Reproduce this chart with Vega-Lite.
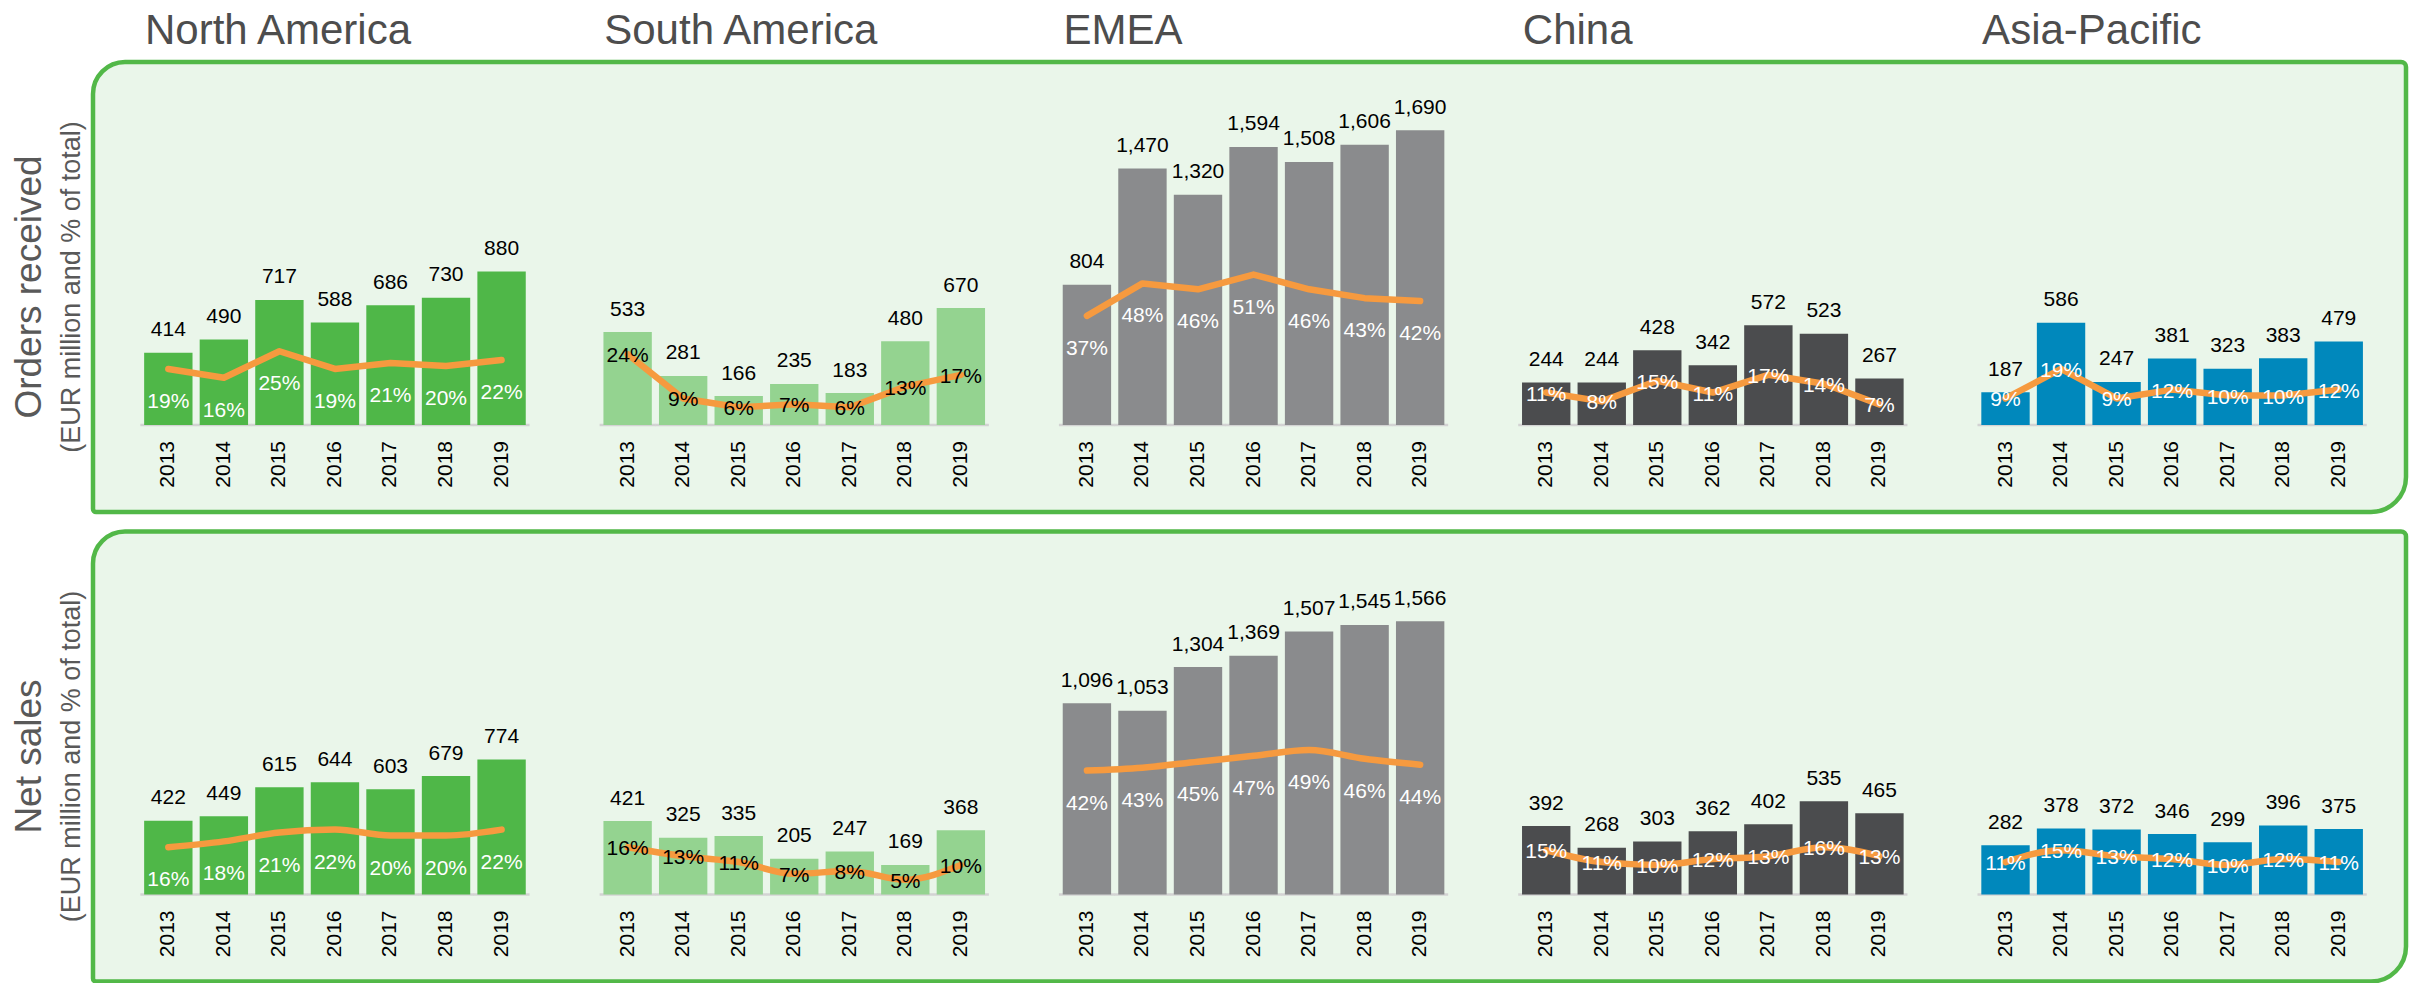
{
  "$schema": "https://vega.github.io/schema/vega-lite/v6.json",
  "padding": {"left": 10, "top": 9, "right": 0, "bottom": 0},
  "autosize": {"type": "pad"},
  "background": "#ffffff",
  "config": {"font": "Liberation Sans", "view": {"stroke": null}, "axis": {"grid": false}},
  "datasets": {
    "orders": [
      {"region": "North America", "year": "2013", "value": 414, "pct": 0.19},
      {"region": "North America", "year": "2014", "value": 490, "pct": 0.16},
      {"region": "North America", "year": "2015", "value": 717, "pct": 0.25},
      {"region": "North America", "year": "2016", "value": 588, "pct": 0.19},
      {"region": "North America", "year": "2017", "value": 686, "pct": 0.21},
      {"region": "North America", "year": "2018", "value": 730, "pct": 0.20},
      {"region": "North America", "year": "2019", "value": 880, "pct": 0.22},
      {"region": "South America", "year": "2013", "value": 533, "pct": 0.24},
      {"region": "South America", "year": "2014", "value": 281, "pct": 0.09},
      {"region": "South America", "year": "2015", "value": 166, "pct": 0.06},
      {"region": "South America", "year": "2016", "value": 235, "pct": 0.07},
      {"region": "South America", "year": "2017", "value": 183, "pct": 0.06},
      {"region": "South America", "year": "2018", "value": 480, "pct": 0.13},
      {"region": "South America", "year": "2019", "value": 670, "pct": 0.17},
      {"region": "EMEA", "year": "2013", "value": 804, "pct": 0.37},
      {"region": "EMEA", "year": "2014", "value": 1470, "pct": 0.48},
      {"region": "EMEA", "year": "2015", "value": 1320, "pct": 0.46},
      {"region": "EMEA", "year": "2016", "value": 1594, "pct": 0.51},
      {"region": "EMEA", "year": "2017", "value": 1508, "pct": 0.46},
      {"region": "EMEA", "year": "2018", "value": 1606, "pct": 0.43},
      {"region": "EMEA", "year": "2019", "value": 1690, "pct": 0.42},
      {"region": "China", "year": "2013", "value": 244, "pct": 0.11},
      {"region": "China", "year": "2014", "value": 244, "pct": 0.08},
      {"region": "China", "year": "2015", "value": 428, "pct": 0.15},
      {"region": "China", "year": "2016", "value": 342, "pct": 0.11},
      {"region": "China", "year": "2017", "value": 572, "pct": 0.17},
      {"region": "China", "year": "2018", "value": 523, "pct": 0.14},
      {"region": "China", "year": "2019", "value": 267, "pct": 0.07},
      {"region": "Asia-Pacific", "year": "2013", "value": 187, "pct": 0.09},
      {"region": "Asia-Pacific", "year": "2014", "value": 586, "pct": 0.19},
      {"region": "Asia-Pacific", "year": "2015", "value": 247, "pct": 0.09},
      {"region": "Asia-Pacific", "year": "2016", "value": 381, "pct": 0.12},
      {"region": "Asia-Pacific", "year": "2017", "value": 323, "pct": 0.10},
      {"region": "Asia-Pacific", "year": "2018", "value": 383, "pct": 0.10},
      {"region": "Asia-Pacific", "year": "2019", "value": 479, "pct": 0.12}
    ],
    "sales": [
      {"region": "North America", "year": "2013", "value": 422, "pct": 0.16},
      {"region": "North America", "year": "2014", "value": 449, "pct": 0.18},
      {"region": "North America", "year": "2015", "value": 615, "pct": 0.21},
      {"region": "North America", "year": "2016", "value": 644, "pct": 0.22},
      {"region": "North America", "year": "2017", "value": 603, "pct": 0.20},
      {"region": "North America", "year": "2018", "value": 679, "pct": 0.20},
      {"region": "North America", "year": "2019", "value": 774, "pct": 0.22},
      {"region": "South America", "year": "2013", "value": 421, "pct": 0.16},
      {"region": "South America", "year": "2014", "value": 325, "pct": 0.13},
      {"region": "South America", "year": "2015", "value": 335, "pct": 0.11},
      {"region": "South America", "year": "2016", "value": 205, "pct": 0.07},
      {"region": "South America", "year": "2017", "value": 247, "pct": 0.08},
      {"region": "South America", "year": "2018", "value": 169, "pct": 0.05},
      {"region": "South America", "year": "2019", "value": 368, "pct": 0.10},
      {"region": "EMEA", "year": "2013", "value": 1096, "pct": 0.42},
      {"region": "EMEA", "year": "2014", "value": 1053, "pct": 0.43},
      {"region": "EMEA", "year": "2015", "value": 1304, "pct": 0.45},
      {"region": "EMEA", "year": "2016", "value": 1369, "pct": 0.47},
      {"region": "EMEA", "year": "2017", "value": 1507, "pct": 0.49},
      {"region": "EMEA", "year": "2018", "value": 1545, "pct": 0.46},
      {"region": "EMEA", "year": "2019", "value": 1566, "pct": 0.44},
      {"region": "China", "year": "2013", "value": 392, "pct": 0.15},
      {"region": "China", "year": "2014", "value": 268, "pct": 0.11},
      {"region": "China", "year": "2015", "value": 303, "pct": 0.10},
      {"region": "China", "year": "2016", "value": 362, "pct": 0.12},
      {"region": "China", "year": "2017", "value": 402, "pct": 0.13},
      {"region": "China", "year": "2018", "value": 535, "pct": 0.16},
      {"region": "China", "year": "2019", "value": 465, "pct": 0.13},
      {"region": "Asia-Pacific", "year": "2013", "value": 282, "pct": 0.11},
      {"region": "Asia-Pacific", "year": "2014", "value": 378, "pct": 0.15},
      {"region": "Asia-Pacific", "year": "2015", "value": 372, "pct": 0.13},
      {"region": "Asia-Pacific", "year": "2016", "value": 346, "pct": 0.12},
      {"region": "Asia-Pacific", "year": "2017", "value": 299, "pct": 0.10},
      {"region": "Asia-Pacific", "year": "2018", "value": 396, "pct": 0.12},
      {"region": "Asia-Pacific", "year": "2019", "value": 375, "pct": 0.11}
    ]
  },
  "bounds": "flush",
  "spacing": 19.5,
  "vconcat": [
    {
      "data": {"name": "orders"},
      "width": 2313,
      "height": 450,
      "title": {"text": "Orders received", "subtitle": "(EUR million and % of total)", "orient": "left", "anchor": "middle", "font": "Liberation Sans", "fontSize": 37, "fontWeight": "normal", "color": "#595959", "subtitleFont": "Liberation Sans", "subtitleFontSize": 27, "subtitleColor": "#595959", "subtitlePadding": 10, "offset": 5},
      "layer": [
        {
          "data": {"values": [{}]},
          "mark": {"type": "rect", "fill": "#eaf6ea", "stroke": "#52b848", "strokeWidth": 4.5, "cornerRadiusTopLeft": 32, "cornerRadiusTopRight": 5, "cornerRadiusBottomRight": 35, "cornerRadiusBottomLeft": 3},
          "encoding": {}
        },
        {
          "encoding": {
            "x": {"field": "region", "type": "nominal", "scale": {"type": "band", "domain": ["North America", "South America", "EMEA", "China", "Asia-Pacific"], "paddingInner": 0.151, "paddingOuter": 0.0935, "align": 0.547},
              "axis": {"orient": "top", "title": null, "domain": false, "ticks": false, "tickSize": 0, "labelAngle": 0, "labelAlign": "left", "labelBaseline": "alphabetic", "labelPadding": 18.5, "labelOffset": -190, "labelFont": "Liberation Sans", "labelFontSize": 42, "labelColor": "#4d4d4d", "labelLimit": 0, "labelOverlap": false, "labelBound": false}},
            "xOffset": {"field": "year", "type": "ordinal", "scale": {"paddingInner": 0.129, "paddingOuter": 0.075}}
          },
          "resolve": {"scale": {"y": "independent"}},
          "layer": [
            {
              "layer": [
                {
                  "mark": {"type": "tick", "color": "#d3d3d3", "size": 56, "thickness": 2.5, "opacity": 1},
                  "encoding": {"y": {"datum": 0, "type": "quantitative", "scale": {"domain": [-499, 2081], "nice": false, "zero": false}, "axis": null}}
                },
                {
                  "mark": {"type": "bar"},
                  "encoding": {
                    "y": {"field": "value", "type": "quantitative", "scale": {"domain": [-499, 2081], "nice": false, "zero": false}, "axis": null},
                    "color": {"field": "region", "type": "nominal", "scale": {"domain": ["North America", "South America", "EMEA", "China", "Asia-Pacific"], "range": ["#4fb748", "#94d390", "#8a8b8d", "#4b4c4e", "#0088bc"]}, "legend": null}
                  }
                },
                {
                  "mark": {"type": "text", "fontSize": 21, "color": "#000000", "baseline": "alphabetic", "dy": -16.5},
                  "encoding": {
                    "y": {"field": "value", "type": "quantitative", "scale": {"domain": [-499, 2081], "nice": false, "zero": false}, "axis": null},
                    "text": {"field": "value", "type": "quantitative", "format": ","}
                  }
                },
                {
                  "mark": {"type": "text", "fontSize": 21, "color": "#000000", "angle": 270, "align": "right", "baseline": "middle", "dx": -16},
                  "encoding": {
                    "y": {"datum": 0, "type": "quantitative", "scale": {"domain": [-499, 2081], "nice": false, "zero": false}, "axis": null},
                    "text": {"field": "year", "type": "nominal"}
                  }
                }
              ]
            },
            {
              "layer": [
                {
                  "mark": {"type": "line", "color": "#f69a3f", "strokeWidth": 6.5, "strokeCap": "round", "strokeJoin": "round", "interpolate": "linear"},
                  "encoding": {
                    "y": {"field": "pct", "type": "quantitative", "scale": {"domain": [-0.2949, 1.2305], "nice": false, "zero": false}, "axis": null},
                    "detail": {"field": "region", "type": "nominal"},
                    "order": {"field": "year", "type": "ordinal"}
                  }
                },
                {
                  "transform": [{"filter": {"field": "region", "oneOf": ["North America", "EMEA"]}}],
                  "mark": {"type": "text", "fontSize": 21, "color": "#ffffff", "baseline": "middle", "dy": 33},
                  "encoding": {
                    "y": {"field": "pct", "type": "quantitative", "scale": {"domain": [-0.2949, 1.2305], "nice": false, "zero": false}, "axis": null},
                    "text": {"field": "pct", "type": "quantitative", "format": ".0%"}
                  }
                },
                {
                  "transform": [{"filter": {"field": "region", "oneOf": ["South America", "China", "Asia-Pacific"]}}],
                  "mark": {"type": "text", "fontSize": 21, "baseline": "middle", "dy": 2},
                  "encoding": {
                    "y": {"field": "pct", "type": "quantitative", "scale": {"domain": [-0.2949, 1.2305], "nice": false, "zero": false}, "axis": null},
                    "text": {"field": "pct", "type": "quantitative", "format": ".0%"},
                    "color": {"condition": {"test": "datum.region === 'South America'", "value": "#000000"}, "value": "#ffffff"}
                  }
                }
              ]
            }
          ]
        }
      ]
    },
    {
      "data": {"name": "sales"},
      "width": 2313,
      "height": 450,
      "title": {"text": "Net sales", "subtitle": "(EUR million and % of total)", "orient": "left", "anchor": "middle", "font": "Liberation Sans", "fontSize": 37, "fontWeight": "normal", "color": "#595959", "subtitleFont": "Liberation Sans", "subtitleFontSize": 27, "subtitleColor": "#595959", "subtitlePadding": 10, "offset": 5},
      "layer": [
        {
          "data": {"values": [{}]},
          "mark": {"type": "rect", "fill": "#eaf6ea", "stroke": "#52b848", "strokeWidth": 4.5, "cornerRadiusTopLeft": 32, "cornerRadiusTopRight": 5, "cornerRadiusBottomRight": 35, "cornerRadiusBottomLeft": 3},
          "encoding": {}
        },
        {
          "encoding": {
            "x": {"field": "region", "type": "nominal", "scale": {"type": "band", "domain": ["North America", "South America", "EMEA", "China", "Asia-Pacific"], "paddingInner": 0.151, "paddingOuter": 0.0935, "align": 0.547}, "axis": null},
            "xOffset": {"field": "year", "type": "ordinal", "scale": {"paddingInner": 0.129, "paddingOuter": 0.075}}
          },
          "resolve": {"scale": {"y": "independent"}},
          "layer": [
            {
              "layer": [
                {
                  "mark": {"type": "tick", "color": "#d3d3d3", "size": 56, "thickness": 2.5, "opacity": 1},
                  "encoding": {"y": {"datum": 0, "type": "quantitative", "scale": {"domain": [-499, 2081], "nice": false, "zero": false}, "axis": null}}
                },
                {
                  "mark": {"type": "bar"},
                  "encoding": {
                    "y": {"field": "value", "type": "quantitative", "scale": {"domain": [-499, 2081], "nice": false, "zero": false}, "axis": null},
                    "color": {"field": "region", "type": "nominal", "scale": {"domain": ["North America", "South America", "EMEA", "China", "Asia-Pacific"], "range": ["#4fb748", "#94d390", "#8a8b8d", "#4b4c4e", "#0088bc"]}, "legend": null}
                  }
                },
                {
                  "mark": {"type": "text", "fontSize": 21, "color": "#000000", "baseline": "alphabetic", "dy": -16.5},
                  "encoding": {
                    "y": {"field": "value", "type": "quantitative", "scale": {"domain": [-499, 2081], "nice": false, "zero": false}, "axis": null},
                    "text": {"field": "value", "type": "quantitative", "format": ","}
                  }
                },
                {
                  "mark": {"type": "text", "fontSize": 21, "color": "#000000", "angle": 270, "align": "right", "baseline": "middle", "dx": -16},
                  "encoding": {
                    "y": {"datum": 0, "type": "quantitative", "scale": {"domain": [-499, 2081], "nice": false, "zero": false}, "axis": null},
                    "text": {"field": "year", "type": "nominal"}
                  }
                }
              ]
            },
            {
              "layer": [
                {
                  "mark": {"type": "line", "color": "#f69a3f", "strokeWidth": 6.5, "strokeCap": "round", "strokeJoin": "round", "interpolate": "monotone"},
                  "encoding": {
                    "y": {"field": "pct", "type": "quantitative", "scale": {"domain": [-0.2949, 1.2305], "nice": false, "zero": false}, "axis": null},
                    "detail": {"field": "region", "type": "nominal"},
                    "order": {"field": "year", "type": "ordinal"}
                  }
                },
                {
                  "transform": [{"filter": {"field": "region", "oneOf": ["North America", "EMEA"]}}],
                  "mark": {"type": "text", "fontSize": 21, "color": "#ffffff", "baseline": "middle", "dy": 33},
                  "encoding": {
                    "y": {"field": "pct", "type": "quantitative", "scale": {"domain": [-0.2949, 1.2305], "nice": false, "zero": false}, "axis": null},
                    "text": {"field": "pct", "type": "quantitative", "format": ".0%"}
                  }
                },
                {
                  "transform": [{"filter": {"field": "region", "oneOf": ["South America", "China", "Asia-Pacific"]}}],
                  "mark": {"type": "text", "fontSize": 21, "baseline": "middle", "dy": 2},
                  "encoding": {
                    "y": {"field": "pct", "type": "quantitative", "scale": {"domain": [-0.2949, 1.2305], "nice": false, "zero": false}, "axis": null},
                    "text": {"field": "pct", "type": "quantitative", "format": ".0%"},
                    "color": {"condition": {"test": "datum.region === 'South America'", "value": "#000000"}, "value": "#ffffff"}
                  }
                }
              ]
            }
          ]
        }
      ]
    }
  ]
}
